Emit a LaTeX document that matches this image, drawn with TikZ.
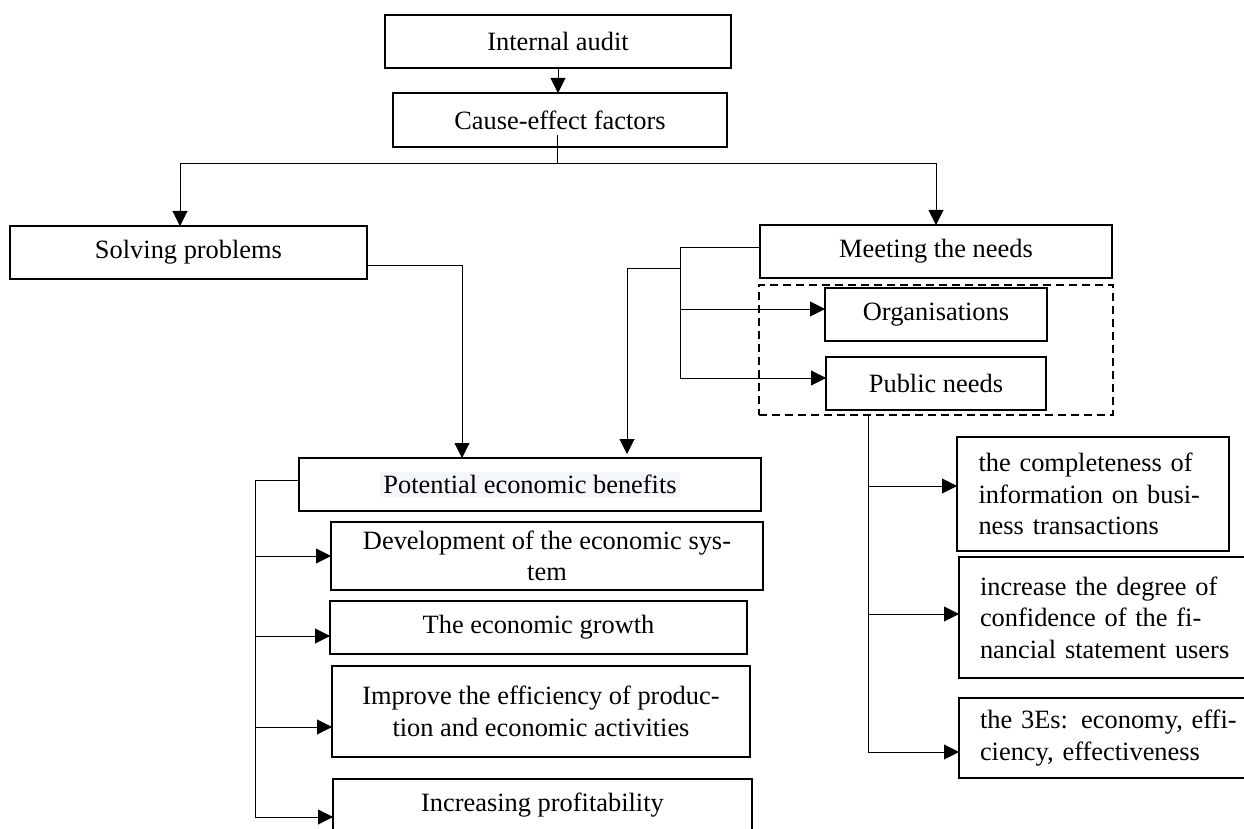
\documentclass[tikz,border=0pt]{standalone}
\usepackage{fontspec}
\setmainfont{Liberation Serif}
\usetikzlibrary{arrows.meta,calc}
\definecolor{hl}{HTML}{F4F6F9}
\newcommand\boxfont{\fontsize{13.2pt}{15.8pt}\selectfont}
\begin{document}
\begin{tikzpicture}[x=0.5pt,y=-0.5pt,
  box/.style={draw, line width=0.9pt, inner sep=0pt, outer sep=0pt, font=\boxfont, align=center},
  dbx/.style={draw, line width=0.9pt, dash pattern=on 4pt off 2.5pt, inner sep=0pt, outer sep=0pt},
  conn/.style={line width=0.5pt},
  arr/.style={conn, -{Triangle[length=7.5pt,width=7.5pt]}}]
\useasboundingbox (0,0) rectangle (1244,829);
% top
\node[box, minimum width=173pt, minimum height=26.5pt] (ia) at (558,41.5) {Internal audit};
\node[box, minimum width=167pt, minimum height=27pt] (cef) at (560,120) {Cause-effect factors};
\node[box, minimum width=178.5pt, minimum height=26.5pt] (sp) at (188.5,252.5) {Solving problems};
\node[box, minimum width=176pt, minimum height=26.5pt] (mn) at (936,251.5) {Meeting the needs};
\node[dbx, minimum width=177pt, minimum height=65pt] (db) at (936,350) {};
\node[box, minimum width=111pt, minimum height=26.5pt] (org) at (936,314.5) {Organisations};
\node[box, minimum width=110pt, minimum height=26.5pt] (pub) at (936,383.5) {Public needs};
% left column
\node[box, minimum width=231pt, minimum height=26.5pt] (peb) at (530,484.5) {{\setlength{\fboxsep}{1.5pt}\colorbox{hl}{Potential economic benefits}}};
\node[box, minimum width=216pt, minimum height=34pt] (dev) at (547,556) {Development of the economic sys-\\tem};
\node[box, minimum width=208.5pt, minimum height=26.5pt] (grow) at (538.5,627.5) {The economic growth};
\node[box, minimum width=209pt, minimum height=45.5pt] (imp) at (541,711.5) {Improve the efficiency of produc-\\tion and economic activities};
\node[box, minimum width=209.5pt, minimum height=26.5pt] (inc) at (542.5,805.5) {Increasing profitability};
% right column
\node[box, minimum width=136pt, minimum height=57pt, text width=114.5pt, align=left] (r1) at (1093,494)
  {\makebox[114.5pt][s]{the completeness of}\\\makebox[114.5pt][s]{information on busi-}\\ness transactions};
\node[box, minimum width=148.5pt, minimum height=60.5pt, text width=127.5pt, align=left] (r2) at (1107.5,617.5)
  {\makebox[127.5pt][s]{increase the degree of}\\\makebox[127.5pt][s]{confidence of the fi-}\\nancial statement users};
\node[box, minimum width=148.5pt, minimum height=40pt, text width=127.5pt, align=left] (r3) at (1107.5,738)
  {\makebox[127.5pt][s]{the 3Es: economy, effi-}\\ciency, effectiveness};
% connectors
\coordinate (c0) at (557,135);
\coordinate (hb) at (557,164);
\draw[arr] (ia.south) -- (ia.south |- cef.north);
\draw[conn] (c0) -- (hb);
\draw[arr] (hb) -| ([xshift=-4.25pt]sp.north);
\draw[arr] (hb) -| (mn.north);
\draw[arr] ([yshift=-6.75pt]sp.east) -| ([xshift=-34pt]peb.north);
\coordinate (mv) at (680,248);
\coordinate (mv2) at (680,269);
\draw[conn] ([yshift=1.75pt]mn.west) -- (mv);
\draw[arr] (mv) |- ([yshift=2.75pt]org.west);
\draw[arr] (mv) |- ([yshift=2.75pt]pub.west);
\draw[arr, shorten >=2pt] (mv2) -| ([xshift=48.5pt]peb.north);
\draw[arr] ([xshift=-34pt]db.south) |- ([yshift=4pt]r1.west);
\draw[arr] ([xshift=-34pt]db.south) |- ([yshift=1.75pt]r2.west);
\draw[arr] ([xshift=-34pt]db.south) |- ([yshift=-7pt]r3.west);
\coordinate (lv) at (255,480);
\draw[conn] ([yshift=2.25pt]peb.west) -- (lv);
\draw[arr] (lv) |- (dev.west);
\draw[arr] (lv) |- ([yshift=-4.25pt]grow.west);
\draw[arr] (lv) |- ([yshift=-7.75pt]imp.west);
\draw[arr] (lv) |- ([yshift=-5.75pt]inc.west);
\end{tikzpicture}
\end{document}
